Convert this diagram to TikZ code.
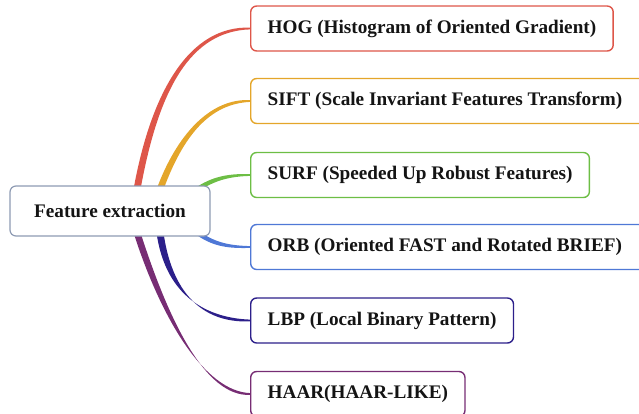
\documentclass[tikz,border=0pt]{standalone}
\usepackage{fontspec}
\setmainfont{Liberation Serif}
\usetikzlibrary{calc,backgrounds}
\definecolor{hogc}{HTML}{DE5649}
\definecolor{siftc}{HTML}{E4A62A}
\definecolor{surfc}{HTML}{6DBE45}
\definecolor{orbc}{HTML}{4F78D6}
\definecolor{lbpc}{HTML}{2C1F8A}
\definecolor{haarc}{HTML}{772D74}
\definecolor{centc}{HTML}{8E9BB3}
\definecolor{txtc}{HTML}{141414}
% tapered connector: colour, start, c1, c2, end, start half-offset, c2 half-width, end half-width
\newcommand\taperlink[8]{%
  \fill[#1] ($#2-(#6)$) .. controls ($#3-(#6)$) and ($#4-(0,#7)$) .. ($#5-(0,#8)$)
    -- ($#5+(0,#8)$) .. controls ($#4+(0,#7)$) and ($#3+(#6)$) .. ($#2+(#6)$) -- cycle;}
\begin{document}
\begin{tikzpicture}[x=1pt,y=-1pt,
  txt/.style={font=\fontsize{19.2}{23}\selectfont\bfseries, text=txtc},
  box/.style={txt, draw, line width=1.4pt, rounded corners=6pt, fill=white,
    inner xsep=17pt, minimum height=45pt, anchor=west},
  widebox/.style={box, text width=366pt, align=flush left}]
\useasboundingbox (0,0) rectangle (639,413);
\clip (0,0) rectangle (639,413);

\node[txt, draw=centc, line width=1.2pt, rounded corners=6pt, fill=white,
  minimum width=200pt, minimum height=50pt] (fe) at (110,211) {Feature extraction};

\node[box, draw=hogc] (hog) at (250,28.5) {HOG (Histogram of Oriented Gradient)};
\node[widebox, draw=siftc] (sift) at (250,101) {SIFT (Scale Invariant Features Transform)};
\node[box, draw=surfc] (surf) at (250,175) {SURF (Speeded Up Robust Features)};
\node[widebox, draw=orbc] (orb) at (250,247) {ORB (Oriented FAST and Rotated BRIEF)};
\node[box, draw=lbpc] (lbp) at (250,320.5) {LBP (Local Binary Pattern)};
\node[box, draw=haarc] (haar) at (250,394) {HAAR(HAAR-LIKE)};

\begin{scope}[on background layer]
\taperlink{hogc}{(fe.north)+(27,4)}{(155,90)}{(190,28.5)}{(hog.west)}{3.5,0}{2.8}{0.9}
\taperlink{siftc}{(fe.north)+(50,4)}{(180,135)}{(210,101)}{(sift.west)}{3.5,0}{2.8}{0.9}
\taperlink{surfc}{(fe.north east)+(-12,3)}{(215,178)}{(230,175)}{(surf.west)}{1,2}{1.5}{0.9}
\taperlink{orbc}{(fe.south east)+(-12,-3)}{(215,245)}{(230,247)}{(orb.west)}{-1,2}{1.5}{0.9}
\taperlink{lbpc}{(fe.south)+(50,-4)}{(168,290)}{(200,320.5)}{(lbp.west)}{3.5,0}{2.8}{0.9}
\taperlink{haarc}{(fe.south)+(27,-4)}{(165,320)}{(205,394)}{(haar.west)}{3.5,0}{2.8}{0.9}
\end{scope}
\end{tikzpicture}
\end{document}
